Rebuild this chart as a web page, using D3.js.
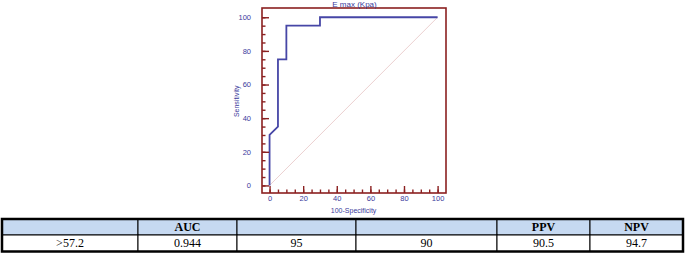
<!DOCTYPE html>
<html>
<head>
<meta charset="utf-8">
<script src="https://cdn.jsdelivr.net/npm/d3@7"></script>
<style>
  html, body { margin: 0; padding: 0; background: #fff; }
  svg { display: block; }
</style>
</head>
<body>
<div id="chart"></div>
<script>
// ROC curve points (100-Specificity, Sensitivity)
const rocX = [0, 0, 5, 5, 10, 10, 30, 30, 100];
const rocY = [0, 30, 35, 75, 75, 95, 95, 100, 100];
const majorTicks = [0, 20, 40, 60, 80, 100];
const minorTicks = d3.range(0, 101, 5);

const tableHeaders = ["", "AUC", "", "", "PPV", "NPV"];
const tableValues = [">57.2", "0.944", "95", "90", "90.5", "94.7"];

const width = 685, height = 256;
const frame = { left: 262, right: 446, top: 8, bottom: 193 };
const colEdges = [2, 138, 237, 356, 497, 590, 683];
const tableTop = 219, headerH = 16, rowH = 16.5;

const frameColor = "#8b2020";
const labelColor = "#3b3b9c";
const curveColor = "#4646a6";

const svg = d3.select("#chart").append("svg")
    .attr("width", width)
    .attr("height", height);

const x = d3.scaleLinear().domain([-4.5, 105]).range([frame.left, frame.right]);
const y = d3.scaleLinear().domain([-4.5, 105.5]).range([frame.bottom, frame.top]);

// diagonal reference line
svg.append("line")
    .attr("x1", x(0)).attr("y1", y(0))
    .attr("x2", x(100)).attr("y2", y(100))
    .attr("stroke", "#e6c4c4")
    .attr("stroke-width", 0.8);

// ROC curve
const pts = rocX.map((d, i) => [d, rocY[i]]);
svg.append("path")
    .datum(pts)
    .attr("fill", "none")
    .attr("stroke", curveColor)
    .attr("stroke-width", 1.8)
    .attr("d", d3.line().x(d => x(d[0])).y(d => y(d[1])));

// frame
svg.append("rect")
    .attr("x", frame.left).attr("y", frame.top)
    .attr("width", frame.right - frame.left)
    .attr("height", frame.bottom - frame.top)
    .attr("fill", "none")
    .attr("stroke", frameColor)
    .attr("stroke-width", 1.6);

function styleAxis(g) {
    g.select(".domain").remove();
    g.selectAll(".tick line").attr("stroke", frameColor).attr("stroke-width", 1.4);
    g.selectAll(".tick text")
        .attr("fill", labelColor)
        .style("font-family", "'Liberation Sans', Arial, sans-serif")
        .style("font-size", "7.5px");
}

// minor ticks
svg.append("g")
    .attr("transform", `translate(${frame.left},0)`)
    .call(d3.axisLeft(y).tickValues(minorTicks).tickSize(-3.5).tickFormat(""))
    .call(styleAxis);
svg.append("g")
    .attr("transform", `translate(0,${frame.bottom})`)
    .call(d3.axisBottom(x).tickValues(minorTicks).tickSize(-3.5).tickFormat(""))
    .call(styleAxis);

// major ticks with labels
svg.append("g")
    .attr("transform", `translate(${frame.left},0)`)
    .call(d3.axisLeft(y).tickValues(majorTicks).tickSize(-7).tickPadding(11))
    .call(styleAxis);
svg.append("g")
    .attr("transform", `translate(0,${frame.bottom})`)
    .call(d3.axisBottom(x).tickValues(majorTicks).tickSize(-7).tickPadding(3))
    .call(styleAxis);

const labelFont = "'Liberation Sans', Arial, sans-serif";

svg.append("text")
    .attr("x", (frame.left + frame.right) / 2 + 0.5)
    .attr("y", 6.5)
    .attr("text-anchor", "middle")
    .attr("fill", labelColor)
    .style("font-family", labelFont)
    .style("font-size", "8px")
    .text("E max (Kpa)");

svg.append("text")
    .attr("transform", `translate(238.5,${(y(0) + y(100)) / 2}) rotate(-90)`)
    .attr("text-anchor", "middle")
    .attr("fill", labelColor)
    .style("font-family", labelFont)
    .style("font-size", "7px")
    .text("Sensitivity");

svg.append("text")
    .attr("x", (x(0) + x(100)) / 2)
    .attr("y", 213)
    .attr("text-anchor", "middle")
    .attr("fill", labelColor)
    .style("font-family", labelFont)
    .style("font-size", "7px")
    .text("100-Specificity");

// table
const table = svg.append("g");
const serif = "'Liberation Serif', 'Times New Roman', serif";
const rows = [
    { cells: tableHeaders, y0: tableTop, h: headerH, fill: "#c6d9f1", bold: true },
    { cells: tableValues, y0: tableTop + headerH, h: rowH, fill: "#ffffff", bold: false }
];

rows.forEach(r => {
    r.cells.forEach((c, i) => {
        table.append("rect")
            .attr("x", colEdges[i]).attr("y", r.y0)
            .attr("width", colEdges[i + 1] - colEdges[i])
            .attr("height", r.h)
            .attr("fill", r.fill)
            .attr("stroke", "#000")
            .attr("stroke-width", 1);
        table.append("text")
            .attr("x", (colEdges[i] + colEdges[i + 1]) / 2)
            .attr("y", r.y0 + r.h / 2 + 4.2)
            .attr("text-anchor", "middle")
            .attr("fill", "#000")
            .style("font-family", serif)
            .style("font-size", "12px")
            .style("font-weight", r.bold ? "bold" : "normal")
            .text(c);
    });
});

// thick outer border
table.append("rect")
    .attr("x", colEdges[0]).attr("y", tableTop)
    .attr("width", colEdges[colEdges.length - 1] - colEdges[0])
    .attr("height", headerH + rowH)
    .attr("fill", "none")
    .attr("stroke", "#000")
    .attr("stroke-width", 2.5);
</script>
</body>
</html>
